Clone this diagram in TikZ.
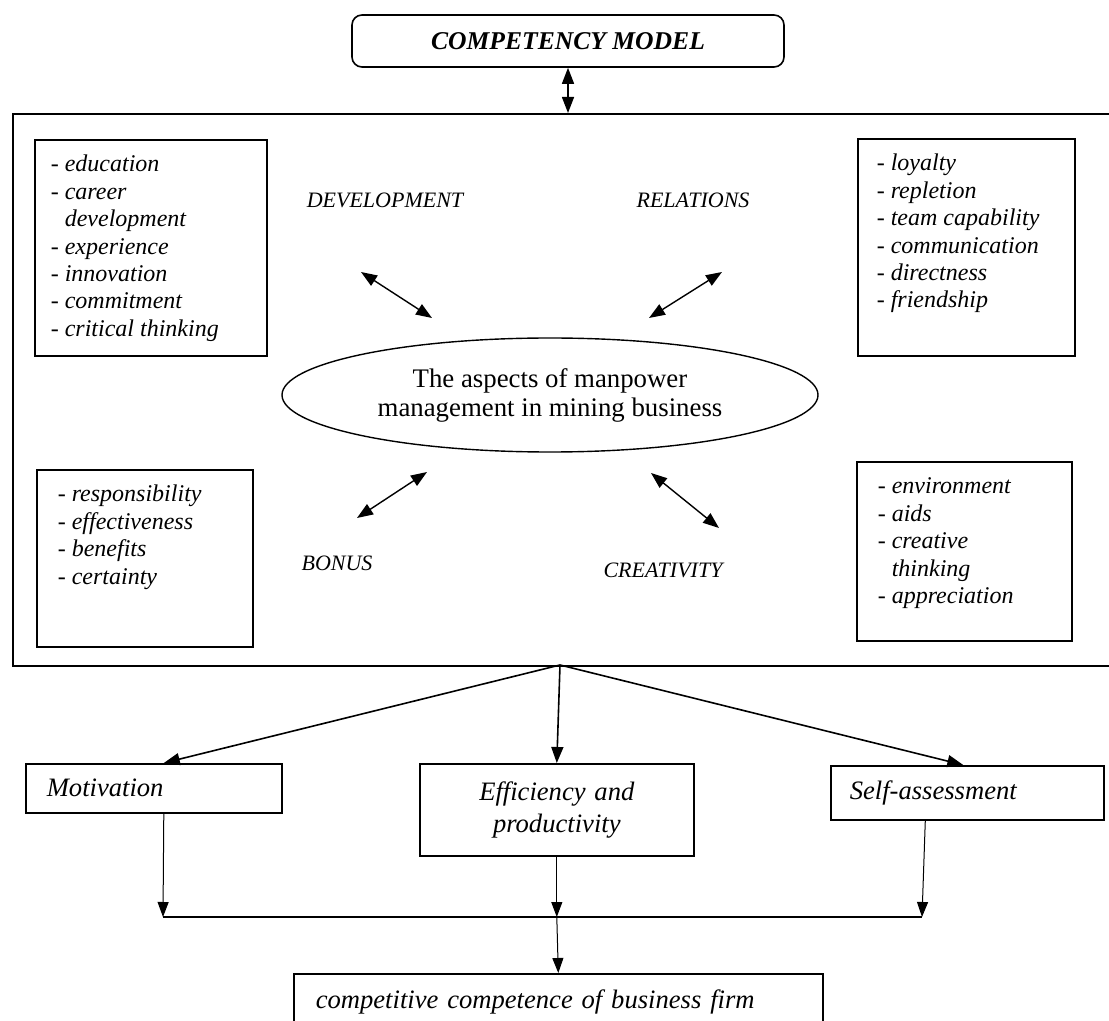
\documentclass[tikz,border=0pt]{standalone}
\usepackage{fontspec}
\setmainfont{Liberation Serif}
\usetikzlibrary{arrows.meta,shapes.geometric}

\newcommand{\itemcol}[3]{\begin{minipage}[c][#2][t]{#1}\raggedright\strut#3\end{minipage}}

\begin{document}
\begin{tikzpicture}[x=0.5pt,y=-0.5pt,
    >={Triangle[length=8pt,width=6pt]},
    box/.style={draw,line width=0.8pt},
    listbox/.style={box,anchor=north west,inner ysep=6.5pt,font=\fontsize{12}{13.7}\selectfont\itshape},
    aspect/.style={font=\fontsize{11}{13}\selectfont\itshape},
    result/.style={box,anchor=north west,align=left,font=\fontsize{13.3}{16}\selectfont\itshape},
    link/.style={<->,line width=0.7pt},
    flow/.style={->,line width=0.8pt},
    down/.style={-{Triangle[length=7.5pt,width=5.5pt]},line width=0.5pt}]
    \useasboundingbox (0,0) rectangle (1109,1021);
    \clip (0,0) rectangle (1109,1021);

    \node[box,rounded corners=5pt,minimum width=216pt,minimum height=26pt,
        font=\fontsize{12.8}{14}\selectfont\bfseries\itshape] (model) at (568,41) {COMPETENCY MODEL};
    \node[box,anchor=north west,minimum width=554pt,minimum height=276pt] (frame) at (12,113) {};
    \draw[link] (model.south) -- (model.south |- frame.north);

    \node[listbox,inner xsep=8pt] (devlist) at (34,139) {\itemcol{100pt}{95pt}{- education\\- career\\\phantom{- }development\\- experience\\- innovation\\- commitment\\- critical thinking}};
    \node[listbox,inner xsep=9.5pt] (rellist) at (857,138) {\itemcol{89.5pt}{95.5pt}{- loyalty\\- repletion\\- team capability\\- communication\\- directness\\- friendship}};
    \node[listbox,inner xsep=10.5pt] (bonlist) at (36,469) {\itemcol{87pt}{75.5pt}{- responsibility\\- effectiveness\\- benefits\\- certainty}};
    \node[listbox,inner xsep=10.5pt] (crelist) at (856,461) {\itemcol{86.5pt}{76.5pt}{- environment\\- aids\\- creative\\\phantom{- }thinking\\- appreciation}};

    \node[draw,ellipse,line width=0.7pt,minimum width=268pt,minimum height=57pt,inner sep=0pt,
        align=center,font=\fontsize{13.4}{14.5}\selectfont] (aspects) at (550,395) {The aspects of manpower\\management in mining business};

    \node[aspect] (dev) at (385,200) {DEVELOPMENT};
    \node[aspect] (rel) at (693,200) {RELATIONS};
    \node[aspect] (bon) at (337,563) {BONUS};
    \node[aspect] (cre) at (663,570) {CREATIVITY};

    \coordinate (dev a) at (361,272);
    \coordinate (dev b) at (432,318);
    \coordinate (rel a) at (722,272);
    \coordinate (rel b) at (649,318);
    \coordinate (bon a) at (357,518);
    \coordinate (bon b) at (427,472);
    \coordinate (cre a) at (651,473);
    \coordinate (cre b) at (719,528);
    \draw[link] (dev a) -- (dev b);
    \draw[link] (rel a) -- (rel b);
    \draw[link] (bon a) -- (bon b);
    \draw[link] (cre a) -- (cre b);

    \node[result,minimum width=128pt,minimum height=24.5pt,inner xsep=10.5pt,text width=107pt] (motiv) at (25,763) {Motivation};
    \node[result,align=center,minimum width=137pt,minimum height=46pt,inner xsep=8.5pt,text width=120pt] (eff) at (419,763) {Efficiency and\\productivity};
    \node[result,minimum width=136.5pt,minimum height=27pt,inner xsep=9.5pt,text width=117.5pt] (self) at (830,765) {Self-assessment};
    \node[result,inner xsep=11pt,text width=242.5pt,inner ysep=8pt,text height=9.5pt,text depth=3pt] (firm) at (293,973) {competitive competence of business firm};

    \coordinate (hub) at (560,665);
    \draw[flow] (hub) -- ([xshift=5pt]motiv.north);
    \draw[flow] (hub) -- (eff.north);
    \draw[flow] (hub) -- ([xshift=-2pt]self.north);

    \coordinate (joinL) at (163,917);
    \coordinate (joinR) at (922,917);
    \draw[line width=0.8pt] (joinL) -- (joinR);
    \draw[down] ([xshift=5pt]motiv.south) -- (joinL);
    \draw[down] (eff.south) -- (eff.south |- joinL);
    \draw[down] ([xshift=-21pt]self.south) -- (joinR);
    \draw[down] (eff.south |- joinL) -- (firm.north);
\end{tikzpicture}
\end{document}
